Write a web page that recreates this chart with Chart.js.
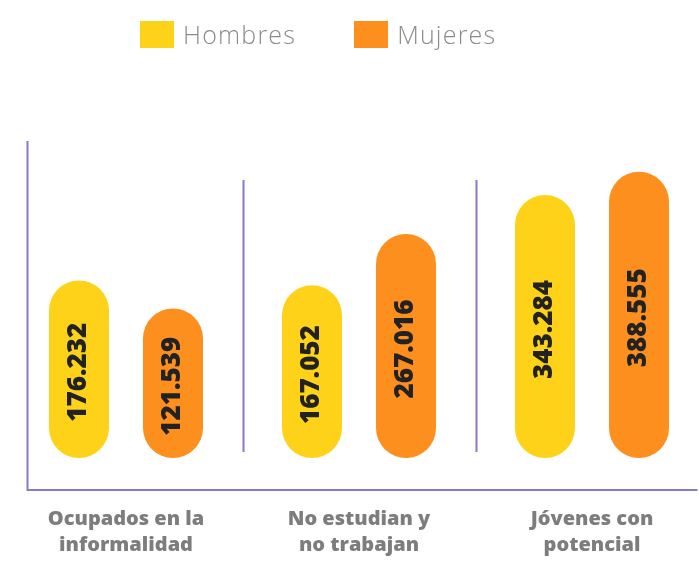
<!DOCTYPE html>
<html>
<head>
<meta charset="utf-8">
<script src="https://cdn.jsdelivr.net/npm/chart.js@4"></script>
<style>
  html, body { margin: 0; padding: 0; background: #fff; overflow: hidden; }
  #wrap { position: relative; width: 712px; height: 562px; }
  #legend { position: absolute; left: 140px; top: 17px; display: flex; align-items: center; font-family: "Open Sans", sans-serif; font-weight: 300; font-size: 25px; letter-spacing: 1.2px; color: #8c8c8c; }
  #legend .item { display: flex; align-items: center; margin-right: 58px; }
  #legend .box { width: 34px; height: 27px; margin-right: 9px; }
</style>
</head>
<body>
<div id="wrap">
  <canvas id="grafica" width="712" height="562"></canvas>
  <div id="legend"></div>
</div>
<script>
const categorias = [
  ['Ocupados en la', 'informalidad'],
  ['No estudian y', 'no trabajan'],
  ['Jóvenes con', 'potencial']
];
const hombres = [176232, 167052, 343284];
const mujeres = [121539, 267016, 388555];
const series = ['Hombres', 'Mujeres'];
const colores = ['#FFD21A', '#FD8F1F'];
const morado = '#8C78BE';

// leyenda en html
const leyenda = document.getElementById('legend');
series.forEach((s, i) => {
  const it = document.createElement('div');
  it.className = 'item';
  it.innerHTML = '<div class="box" style="background:' + colores[i] + '"></div><span>' + s + '</span>';
  leyenda.appendChild(it);
});

function formato(v) {
  return String(v).replace(/\B(?=(\d{3})+(?!\d))/g, '.');
}

const marco = {
  id: 'marco',
  beforeDatasetsDraw(chart) {
    const {ctx, chartArea: a, scales: {x}} = chart;
    ctx.save();
    ctx.strokeStyle = morado;
    ctx.lineWidth = 2;
    // ejes
    ctx.beginPath();
    ctx.moveTo(a.left + 18, a.top);
    ctx.lineTo(a.left + 18, a.bottom);
    ctx.lineTo(a.right - 11, a.bottom);
    ctx.stroke();
    // separadores entre grupos
    for (let i = 0; i < categorias.length - 1; i++) {
      const sx = Math.round((x.getPixelForValue(i) + x.getPixelForValue(i + 1)) / 2) + 0.5;
      ctx.beginPath();
      ctx.moveTo(sx, a.top + 39);
      ctx.lineTo(sx, a.bottom - 38);
      ctx.stroke();
    }
    ctx.restore();
  },
  afterDatasetsDraw(chart) {
    const {ctx} = chart;
    ctx.save();
    ctx.fillStyle = '#222';
    ctx.font = '800 26px "Open Sans", sans-serif';
    ctx.textAlign = 'center';
    ctx.textBaseline = 'middle';
    chart.data.datasets.forEach((ds, di) => {
      chart.getDatasetMeta(di).data.forEach((bar, i) => {
        ctx.save();
        ctx.translate(bar.x, (bar.y + bar.base) / 2 + 3);
        ctx.rotate(-Math.PI / 2);
        ctx.fillText(formato(ds.data[i]), 0, 0);
        ctx.restore();
      });
    });
    ctx.restore();
  }
};

new Chart(document.getElementById('grafica'), {
  type: 'bar',
  data: {
    labels: categorias,
    datasets: [
      { label: series[0], data: hombres, backgroundColor: colores[0] },
      { label: series[1], data: mujeres, backgroundColor: colores[1] }
    ]
  },
  options: {
    responsive: false,
    animation: false,
    layout: { padding: { top: 141, left: 9.5, right: 3.5, bottom: 0 } },
    datasets: {
      bar: {
        base: -170000,
        borderRadius: 30,
        borderSkipped: false,
        categoryPercentage: 0.807,
        barPercentage: 0.638
      }
    },
    plugins: {
      legend: { display: false },
      tooltip: { enabled: false }
    },
    scales: {
      x: {
        grid: { display: false, drawTicks: false },
        border: { display: false },
        afterFit(scale) { scale.height = 72; },
        ticks: {
          padding: 16,
          color: '#7d7d7d',
          font: { family: '"Open Sans", sans-serif', weight: '800', size: 20, lineHeight: 1.3 }
        }
      },
      y: {
        display: false,
        min: -232400,
        max: 448400
      }
    }
  },
  plugins: [marco]
});
</script>
</body>
</html>
